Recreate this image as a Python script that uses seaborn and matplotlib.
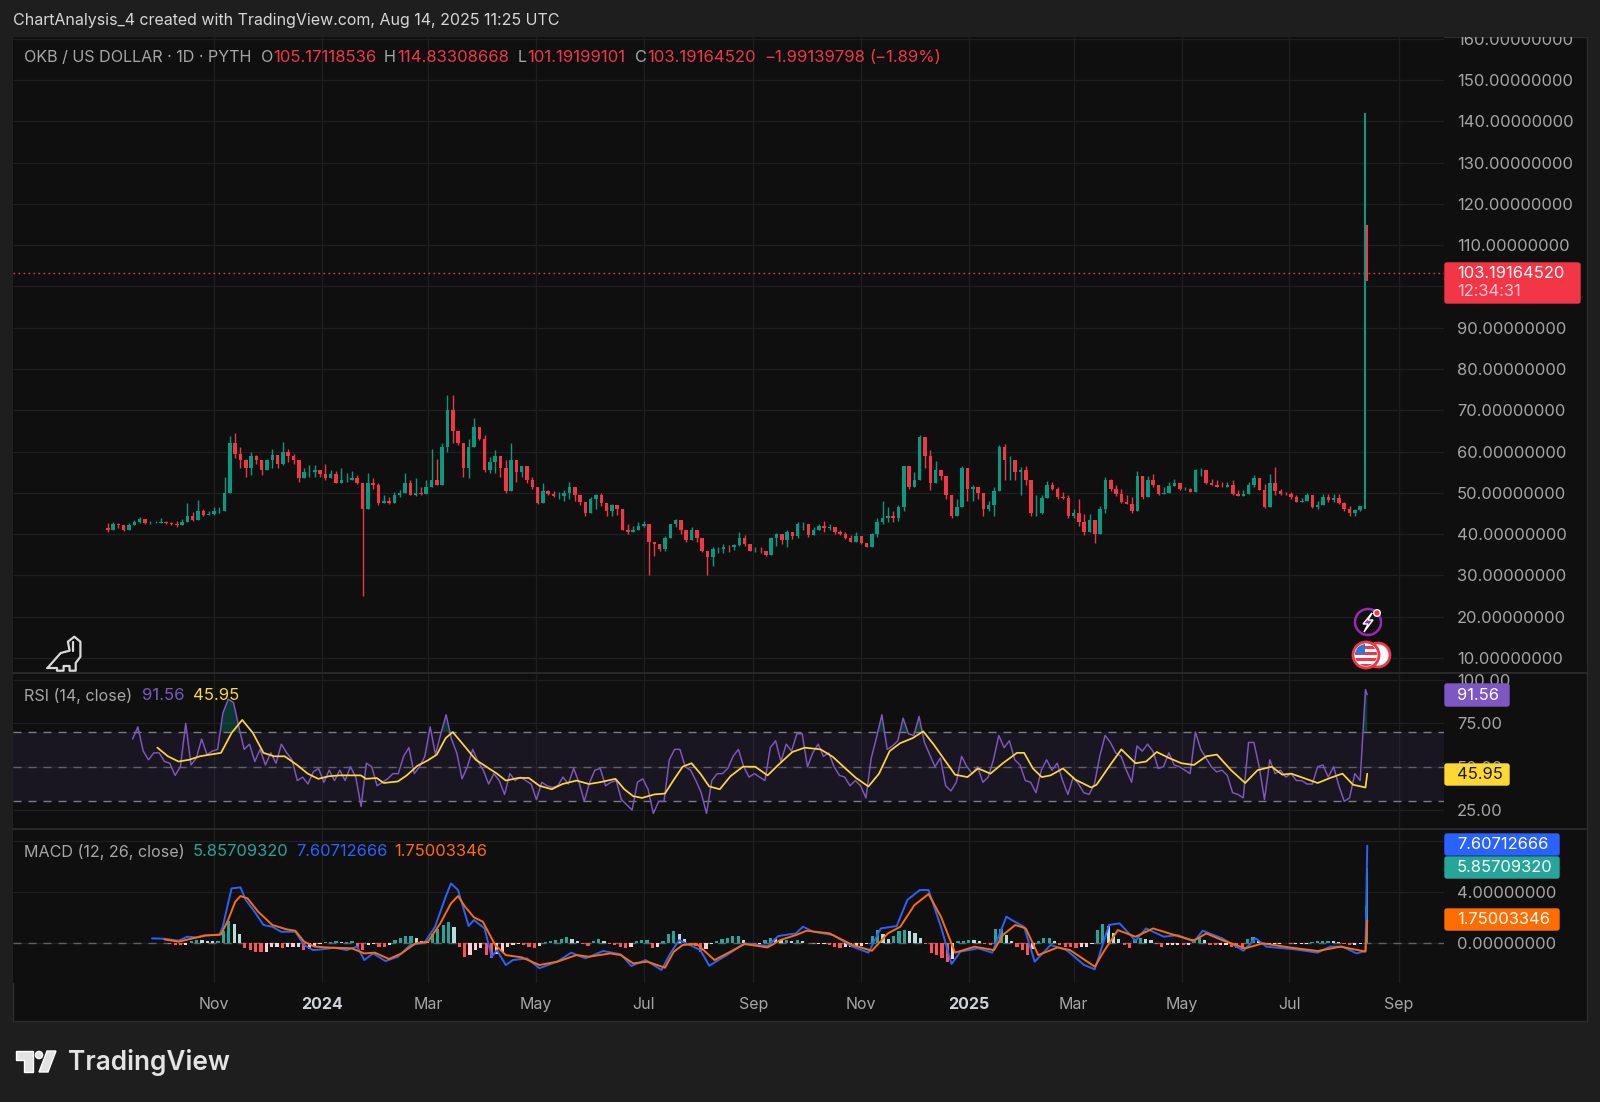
import numpy as np
import pandas as pd
import matplotlib
matplotlib.use('Agg')
import matplotlib.pyplot as plt
from matplotlib.patches import Rectangle, Circle, Polygon, FancyBboxPatch
import seaborn as sns

# candles, one every 3 days from start_date
start_date = pd.Timestamp('2023-09-02')
closes = [41.0,42.5,42.2,41.0,42.2,43.0,43.6,42.6,42.7,42.8,
          42.9,42.6,42.5,42.1,42.9,44.5,43.4,45.6,44.6,44.8,
          45.5,45.6,50.0,62.0,59.5,58.0,56.0,59.0,58.0,55.5,
          58.0,59.2,57.0,60.0,59.0,58.0,53.5,55.0,55.0,55.5,
          54.6,53.5,54.5,52.5,53.0,53.0,53.6,52.4,46.0,52.5,
          52.0,47.5,48.0,47.5,49.5,50.0,52.5,49.5,50.0,49.8,
          51.5,53.0,52.0,61.0,70.0,65.0,62.0,56.0,61.0,66.0,
          63.0,55.5,57.5,59.0,56.0,50.5,58.0,55.0,56.5,53.0,
          51.5,47.5,50.5,49.8,49.2,49.2,50.0,51.5,49.5,47.8,
          45.0,48.5,49.5,47.5,45.5,47.0,46.0,41.0,40.5,41.0,
          42.0,42.5,38.0,37.5,36.5,39.0,42.5,43.5,41.0,38.5,
          41.0,39.0,36.0,34.5,36.5,36.5,37.0,36.8,37.4,39.0,
          37.5,36.0,36.0,35.9,35.0,39.0,40.0,38.5,40.5,39.5,
          42.5,42.5,39.8,41.0,42.0,41.5,41.8,40.5,40.0,39.0,
          38.2,39.5,37.8,37.0,40.0,43.0,44.0,44.5,44.0,46.5,
          56.5,51.5,53.0,63.5,59.0,52.5,55.5,54.0,49.5,44.5,
          46.5,56.0,51.0,51.5,50.0,46.0,47.0,50.5,61.0,58.0,
          58.0,55.0,55.5,53.0,45.0,45.0,48.8,52.0,51.0,49.0,
          48.8,44.5,45.0,43.0,40.5,43.5,40.0,46.0,53.0,51.0,
          49.7,47.8,47.4,45.5,54.0,49.0,53.0,52.0,49.8,50.0,
          51.6,52.5,51.0,51.0,50.3,55.5,55.5,52.5,52.0,51.5,
          51.3,51.8,49.8,49.2,49.8,52.0,53.5,50.8,46.5,52.5,
          50.5,49.8,49.7,48.9,47.8,48.0,49.5,46.6,47.0,49.0,
          48.2,48.7,47.6,46.0,45.2,45.8,46.9]
highs = [42.7,43.0,42.6,42.0,42.6,43.4,44.1,43.1,43.2,43.3,
         43.9,43.3,43.0,43.2,43.6,47.5,45.4,48.2,46.2,45.6,
         46.6,46.6,53.9,63.7,64.6,61.0,58.2,60.0,59.1,57.5,
         58.3,60.7,58.7,62.2,60.7,59.5,56.1,55.9,56.7,56.7,
         55.5,56.9,55.5,55.3,56.1,54.7,55.3,54.3,52.3,54.8,
         53.5,52.4,49.4,49.0,50.2,50.7,54.8,53.0,53.5,51.5,
         53.0,60.7,58.3,62.0,73.7,73.7,64.8,61.5,63.0,68.2,
         65.2,64.0,58.7,60.3,57.5,57.9,62.0,56.5,56.5,56.3,
         53.9,51.0,52.3,50.7,50.4,50.2,50.6,52.6,51.0,49.0,
         47.7,49.1,49.8,50.0,47.3,47.4,46.4,45.7,42.5,42.0,
         42.9,43.1,42.0,37.8,37.3,39.5,42.5,43.6,42.1,40.5,
         41.7,40.5,38.0,36.0,37.0,36.9,37.7,37.3,37.7,40.5,
         39.7,37.2,36.8,36.8,36.0,39.3,40.2,39.3,40.9,40.5,
         42.9,42.9,42.1,41.7,42.5,43.1,42.5,41.5,41.0,40.5,
         39.7,40.5,39.3,37.8,40.2,44.0,48.1,46.5,45.7,47.0,
         56.6,56.6,55.0,63.9,61.9,60.3,57.8,55.6,53.8,48.0,
         48.5,56.6,51.4,51.8,51.4,47.5,48.1,51.4,61.5,61.9,
         59.0,56.6,56.2,56.6,49.8,49.4,49.4,52.8,52.6,51.4,
         50.2,49.4,46.1,48.5,44.9,44.8,42.7,46.9,53.8,53.4,
         51.8,51.0,49.4,49.0,55.2,53.8,54.2,54.6,51.8,51.4,
         52.6,53.4,51.8,51.5,51.2,55.8,56.0,55.0,53.4,53.0,
         52.6,52.6,53.0,50.6,50.6,52.6,54.4,53.4,52.2,54.6,
         56.2,51.0,50.3,50.2,49.4,48.7,50.0,49.0,48.1,49.8,
         49.8,49.8,49.8,47.7,46.7,46.1,46.9]
lows = [40.5,41.4,41.6,40.7,41.8,42.4,42.7,42.4,42.5,42.6,
        42.6,42.5,42.3,41.8,42.2,43.2,43.1,43.4,44.3,44.6,
        44.6,45.0,49.9,55.0,58.5,55.9,53.9,54.3,57.1,54.3,
        55.9,55.9,55.9,56.7,57.5,57.1,52.7,53.9,53.9,53.9,
        53.9,53.2,53.5,52.3,52.9,52.7,53.0,52.2,25.0,46.2,
        51.0,47.0,47.8,47.2,48.6,49.0,50.0,49.4,49.2,49.4,
        50.5,51.3,51.9,56.5,60.0,62.0,61.5,53.9,53.5,62.4,
        62.8,55.0,54.7,54.7,53.9,50.0,53.0,52.7,53.9,52.3,
        51.0,47.4,49.4,49.4,48.9,48.5,48.1,48.5,48.1,47.0,
        44.5,46.1,46.1,46.9,44.5,44.5,44.7,40.9,40.0,40.7,
        41.0,41.7,30.0,34.8,35.9,36.0,39.3,41.7,40.0,38.2,
        39.7,38.0,35.6,30.2,32.4,35.4,35.4,35.6,36.2,37.2,
        37.2,35.9,35.6,35.4,34.7,36.0,37.2,37.6,37.0,38.9,
        39.0,40.9,39.4,39.9,40.9,40.5,41.0,40.0,39.7,38.9,
        38.1,38.5,37.5,36.8,37.2,39.4,42.5,42.9,42.9,43.3,
        45.7,51.0,52.0,53.0,56.0,50.6,53.0,53.0,48.5,44.0,
        44.5,48.1,48.1,48.0,48.5,44.5,45.7,44.5,51.8,53.0,
        53.0,53.0,49.4,52.0,44.5,44.5,44.9,49.8,50.6,48.5,
        48.5,44.0,44.0,42.0,39.9,41.3,37.8,40.5,45.0,50.5,
        49.2,47.5,47.3,45.0,49.0,48.5,52.2,51.4,49.6,49.8,
        50.6,51.8,50.7,50.7,50.3,51.0,54.2,52.2,51.8,51.4,
        51.3,51.3,49.6,49.2,49.4,50.2,51.4,50.7,46.3,47.7,
        49.4,49.4,49.6,48.5,47.7,47.7,48.1,46.4,46.1,47.7,
        47.7,47.7,47.3,45.7,44.5,44.3,45.7]
first_open = 41.5

# the last two daily candles, Aug 13 and Aug 14 2025
spike_days = [711, 712]
spike_open = [46.5, 105.17118536]
spike_high = [142.0, 114.83308668]
spike_low = [46.0, 101.19199101]
spike_close = [105.17118536, 103.1916452]
last_close = 103.1916452

# RSI, one every 3 days from day 14
rsi_vals = [66,73,59,54,58,58,53,52,45,50,75,51,55,66,57,59,60,81,89,87,
            73,60,63,53,60,51,58,52,63,58,54,42,44,40,47,49,41,48,42,48,
            42,50,44,27,52,50,39,41,43,46,46,56,61,46,50,56,73,57,69,80,
            66,58,43,50,60,53,48,40,46,42,34,46,42,44,42,40,31,41,39,38,
            39,44,40,49,41,30,41,48,49,39,41,42,31,28,25,41,43,37,23,30,
            30,54,60,60,50,48,42,35,23,42,46,46,49,56,60,50,44,46,44,42,
            61,65,53,63,59,69,69,50,58,63,56,58,50,45,44,39,42,39,32,55,
            67,80,60,62,65,78,69,68,79,64,57,50,55,39,36,41,56,50,46,50,
            41,44,54,68,61,65,54,51,42,41,35,48,54,48,52,42,34,44,40,35,
            34,40,56,68,64,58,56,48,41,62,59,63,59,49,50,58,51,50,48,46,
            70,60,55,50,47,48,45,35,34,32,64,64,50,31,54,46,48,44,46,42,
            42,40,40,50,51,44,50,39,30,32,46,42]
rsi_end = [94.5, 91.56]

rsi_ma_days = [28,34,40,46,52,58,64,70,76,82,88,94,100,107,113,119,125,131,137,143,
               146,152,156,164,169,175,181,186,191,195,201,208,214,220,225,232,238,244,251,257,
               265,272,278,287,292,297,302,309,315,320,325,330,335,340,346,352,359,366,373,379,
               387,394,403,410,417,423,430,436,442,448,455,461,467,473,479,486,492,499,506,514,
               518,523,528,533,540,547,556,559,566,573,581,587,593,600,607,614,621,627,635,643,
               650,658,664,669,676,684,691,698,704,711,712]
rsi_ma_vals = [61,56,53,54,56,57,58,69.5,77,69.5,58,56,56,51,46,43,44.5,45,45,45,
               43,43.5,40.6,41.5,45,50.5,53.7,57,66.5,70,62.7,54,50,46,42,43.5,43.5,39,37,40,
               42,40,41,43,37,33,32,34,34.5,42.5,50,52,46,38.6,37,44.5,50,50,45,51,
               58.5,61,60,55.6,49,43.5,38.6,46,59,63.6,66.5,70.4,62.7,54,45.4,44,49,46,52,58,
               58,49,44,45,49,42.5,38,39.6,50,60,52,53,58.5,55,52,51,56,57,48,40.6,
               48,50,45.4,46,43.5,40.6,43.5,46,39.6,38,45.95]

# MACD line and signal line, read at the turning points
macd_days = [25,32,40,45,50,55,63,65,68,70,75,78,83,88,93,98,106,111,116,121,
             128,135,141,145,150,157,164,171,179,185,191,194,198,204,207,213,217,220,225,229,
             237,244,254,262,270,280,290,296,304,313,318,323,329,335,340,350,360,373,379,389,
             393,399,410,421,430,437,446,452,459,464,471,477,482,492,500,508,511,518,524,533,
             542,552,558,566,572,581,587,597,605,614,619,630,642,649,655,671,684,691,698,706,
             711,712]
macd_vals = [.34,.31,.16,.47,.42,.6,.6,1.25,3.1,4.26,4.34,3.35,2.43,1.39,1.25,.86,.86,-.18,-.58,-.52,
             -.39,-.58,-.31,-1.36,-.84,-1.44,-1.1,-.18,0,1.25,3.6,4.65,4.13,1.31,1.78,1.12,-1.1,-.58,-1.75,-1.36,
             -1.23,-2.0,-1.49,-.78,-1.23,-.65,-.91,-1.83,-1.36,-2.14,-.84,.2,-.18,-.58,-1.8,-.97,-.05,-.26,.52,.73,
             1.25,.86,.6,-.31,-.78,1.12,1.31,3.35,4.13,4.13,1.25,-1.67,-.7,-.44,-.78,2.04,1.78,1.25,-1.49,-.18,
             -.58,-1.75,-2.09,1.39,1.52,.16,1.12,.47,.6,.08,.94,.34,-.63,.34,-.31,-.52,-.78,-.31,-.31,-.84,
             -.65,7.60712666]
signal_days = [32,40,48,55,64,68,72,75,79,85,93,101,106,111,117,126,138,145,151,159,
               166,174,181,188,194,198,202,207,212,219,225,234,244,254,265,272,284,290,297,305,
               315,320,325,333,343,352,360,373,380,389,395,408,421,432,441,448,456,464,471,479,
               490,501,506,513,519,526,537,544,558,563,571,581,591,603,614,621,630,643,653,668,
               684,697,711,712]
signal_vals = [.26,.08,.34,.55,.65,1.78,3.2,3.66,3.48,2.43,1.39,1.05,.94,.08,-.31,-.39,-.44,-.84,-.78,-1.28,
               -.84,-.05,.08,1.52,3.08,3.66,2.82,1.99,1.65,-.18,-.97,-1.15,-1.75,-1.49,-.97,-1.1,-.84,-.97,-1.62,-1.49,
               -1.96,-.7,-.18,-.1,-1.36,-.7,-.1,-.37,.2,.6,.94,.73,-.18,-.63,.73,1.25,2.95,3.82,2.04,-.78,
               -.31,-.58,.6,1.39,1.12,-.97,-.37,-.58,-1.88,-.7,.99,.47,1.12,.6,.16,.73,.2,-.44,-.05,-.37,
               -.65,-.31,-.7,1.75003346]

# MACD histogram, one bar every 3 days from day 32
hist_vals = [-.05,-.1,-.15,-.2,-.2,.15,.25,.2,.15,.1,.1,.9,1.7,1.5,.7,-.4,-.6,-.7,-.75,-.7,
             -.35,-.3,-.4,-.3,-.3,-.3,-.6,-.5,-.3,-.1,.05,.08,.1,.06,.06,.1,-.3,-.6,-.2,-.1,
             -.3,-.35,-.15,.25,.35,.5,.55,.35,.15,.1,.7,1.1,1.4,1.6,1.2,-.3,-1.1,-1.0,-.6,-.4,
             -1.0,-1.2,-.9,-.7,-.3,-.15,-.1,-.15,-.3,-.45,-.25,.05,.15,.2,.3,.45,.3,.1,-.1,-.25,
             .15,.3,.15,-.1,-.2,-.3,-.4,-.35,.1,.2,.2,-.4,-.35,.1,.7,.9,.7,.3,-.1,-.25,
             -.7,-.5,-.1,.1,.3,.4,.5,.5,.2,-.05,-.15,-.1,.2,.4,.3,.2,.2,.15,.2,.15,
             -.05,-.1,-.1,-.1,-.2,-.3,-.4,-.35,-.3,-.25,-.25,-.1,.5,1.0,.7,.3,.5,.9,1.0,.9,
             .8,.4,-.1,-.8,-1.0,-1.2,-1.5,-1.3,.1,.15,.25,.2,.1,-.1,-.2,1.1,1.1,.6,.1,-.3,
             -.6,-1.0,-.5,.1,.4,.4,.1,-.2,-.3,-.35,-.4,-.35,-.3,-.1,1.0,1.5,1.3,.8,.3,-.2,
             -.4,.25,.35,.3,.2,-.1,-.3,-.15,-.15,-.15,-.2,-.2,.3,.4,.2,-.15,-.2,-.2,-.2,-.3,
             -.45,-.5,.3,.45,.1,-.1,-.1,-.1,-.1,-.05,-.1,-.1,-.1,-.1,.05,.1,.15,.15,.1,.05,
             -.1,-.15,-.15,-.1]
hist_end = [2.9, 5.8570932]

price_ticks = list(range(10, 170, 10))
rsi_ticks = [25, 50, 75, 100]
macd_ticks = [0, 4, 8]
tick_dates = ['2023-11-01', '2024-01-01', '2024-03-01', '2024-05-01', '2024-07-01',
              '2024-09-01', '2024-11-01', '2025-01-01', '2025-03-01', '2025-05-01',
              '2025-07-01', '2025-09-01']
tick_names = ['Nov', '2024', 'Mar', 'May', 'Jul', 'Sep', 'Nov', '2025', 'Mar', 'May', 'Jul', 'Sep']

GREEN = '#089981'
RED = '#f23645'
PURPLE = '#7e57c2'
YELLOW = '#fdd835'
BLUE = '#2962ff'
ORANGE = '#ff6d00'
TEAL = '#26a69a'
OUTER = '#1e1e1e'
PANEL = '#0f0f0f'
GRID = '#1e1e1e'
TXT = '#a6a6a6'

sns.set_theme(style='dark')
plt.rcParams['font.family'] = ['Inter', 'DejaVu Sans']
plt.rcParams['axes.unicode_minus'] = False
plt.rcParams['lines.solid_joinstyle'] = 'round'

W, H = 1600, 1102
fig = plt.figure(figsize=(W / 100, H / 100), dpi=100, facecolor=OUTER)


def pane(top, bottom, left=13, right=1444, z=1):
    return fig.add_axes([left / W, 1 - bottom / H, (right - left) / W, (bottom - top) / H],
                        facecolor=PANEL, zorder=z)


# background panel
bg = fig.add_axes([0, 0, 1, 1], zorder=0)
bg.set_xlim(0, W)
bg.set_ylim(H, 0)
bg.axis('off')
bg.add_patch(Rectangle((13, 37), 1574, 984, fc=PANEL, ec='#2c2c2c', lw=1))

ax1 = pane(37, 673)
ax2 = pane(674, 829)
ax3 = pane(830, 983)

# x is days since start_date, 1.769 pixels a day
xlim = (-53.6, 755.4)
tick_days = [(pd.Timestamp(d) - start_date).days for d in tick_dates]

# candles
closes_arr = np.array(closes)
opens_arr = np.r_[first_open, closes_arr[:-1]]
candle_days = np.arange(len(closes_arr)) * 3
up = closes_arr >= opens_arr
candle_cols = np.where(up, GREEN, RED)
wick_hi = np.maximum(np.array(highs), np.maximum(opens_arr, closes_arr))
wick_lo = np.minimum(np.array(lows), np.minimum(opens_arr, closes_arr))
ax1.vlines(candle_days, wick_lo, wick_hi, colors=candle_cols, lw=1.0, zorder=3)
ax1.bar(candle_days, closes_arr - opens_arr, bottom=opens_arr, width=2.0, color=candle_cols, lw=0, zorder=3)
spike_cols = [GREEN if c >= o else RED for o, c in zip(spike_open, spike_close)]
ax1.vlines(spike_days, spike_low, spike_high, colors=spike_cols, lw=1.5, zorder=4)
ax1.bar(spike_days, np.array(spike_close) - np.array(spike_open), bottom=spike_open,
        width=0.8, color=spike_cols, lw=0, zorder=4)
ax1.axhline(last_close, color=RED, lw=1, ls=(0, (1.2, 2.4)), zorder=2)

# RSI
rsi_days = np.r_[np.linspace(14, 708, len(rsi_vals)), spike_days]
rsi_all = np.r_[rsi_vals, rsi_end]
rsi_df = pd.DataFrame({'day': rsi_days, 'rsi': rsi_all})
rsi_ma_df = pd.DataFrame({'day': rsi_ma_days, 'ma': rsi_ma_vals})
ax2.axhspan(30, 70, color=PURPLE, alpha=0.1, lw=0, zorder=1)
for lvl in [70, 50, 30]:
    ax2.axhline(lvl, color='#787b86', lw=1, ls=(0, (5.8, 5)), zorder=2, alpha=1 if lvl != 50 else 0.7)
ax2.fill_between(rsi_days, 70, rsi_all, where=rsi_all > 70, interpolate=True, color=GREEN, alpha=0.3, lw=0, zorder=2)
sns.lineplot(data=rsi_df, x='day', y='rsi', ax=ax2, color=PURPLE, lw=1.05, estimator=None, zorder=3)
sns.lineplot(data=rsi_ma_df, x='day', y='ma', ax=ax2, color=YELLOW, lw=1.25, estimator=None, zorder=4)

# MACD
hist_days = np.linspace(32, 708, len(hist_vals))
hist_arr = np.array(hist_vals)
prev = np.r_[0, hist_arr[:-1]]
hist_cols = np.where(hist_arr >= 0, np.where(hist_arr >= prev, TEAL, '#b2dfdb'),
                     np.where(hist_arr < prev, '#ff5252', '#ffcdd2'))
hist_df = pd.DataFrame({'day': hist_days, 'hist': hist_arr, 'col': hist_cols})
ax3.axhline(0, color='#5d606b', lw=1, ls=(0, (5.8, 5)), zorder=1)
sns.barplot(data=hist_df, x='day', y='hist', hue='col', palette={c: c for c in set(hist_cols)},
            native_scale=True, dodge=False, width=0.6, saturation=1, legend=False,
            errorbar=None, linewidth=0, ax=ax3, zorder=2)
end_df = pd.DataFrame({'day': spike_days, 'hist': hist_end})
sns.barplot(data=end_df, x='day', y='hist', color=TEAL, native_scale=True, width=0.8, saturation=1,
            errorbar=None, linewidth=0, ax=ax3, zorder=2)
macd_df = pd.DataFrame({'day': macd_days, 'v': macd_vals})
signal_df = pd.DataFrame({'day': signal_days, 'v': signal_vals})
sns.lineplot(data=macd_df, x='day', y='v', ax=ax3, color=BLUE, lw=1.4, estimator=None, zorder=3)
sns.lineplot(data=signal_df, x='day', y='v', ax=ax3, color=ORANGE, lw=1.4, estimator=None, zorder=4)

# axes
ax1.set_ylim(6.37, 160.4)
ax2.set_ylim(14.05, 103.5)
ax3.set_ylim(-3.16, 8.84)
for ax in (ax1, ax2, ax3):
    ax.set_xlim(*xlim)
    ax.set_xticks(tick_days)
    ax.set_xlabel('')
    ax.set_ylabel('')
    ax.yaxis.tick_right()
    ax.grid(True, color=GRID, lw=1)
    ax.set_axisbelow(True)
    ax.tick_params(axis='y', length=0, pad=9.2, labelsize=11.9, labelcolor=TXT)
    for s in ax.spines.values():
        s.set_visible(False)
ax1.set_yticks(price_ticks, [f'{v:.8f}' for v in price_ticks])
ax2.set_yticks(rsi_ticks, [f'{v:.2f}' for v in rsi_ticks])
ax3.set_yticks(macd_ticks, [f'{v:.8f}' for v in macd_ticks])
ax1.tick_params(axis='x', length=0, labelbottom=False)
ax2.tick_params(axis='x', length=0, labelbottom=False)
ax3.set_xticks(tick_days, tick_names)
ax3.tick_params(axis='x', length=0, pad=10, labelsize=11.5, labelcolor=TXT)
for lab in ax3.get_xticklabels():
    if lab.get_text().startswith('20'):
        lab.set_fontweight('bold')
        lab.set_color('#d1d4dc')

# everything outside the data: header, legends, badges, icons
ov = fig.add_axes([0, 0, 1, 1], zorder=20)
ov.set_xlim(0, W)
ov.set_ylim(H, 0)
ov.axis('off')
ov.patch.set_alpha(0)
ov.add_patch(Rectangle((0, 0), W, 36.5, fc=OUTER, ec='none'))
ov.add_patch(Rectangle((1445, 664), 142, 9, fc=PANEL, ec='none'))
for y in (673, 829):
    ov.plot([13, 1587], [y, y], color='#2e2e2e', lw=1.2)


def label(x, y, s, color=TXT, size=11.6, **kw):
    ov.text(x, y, s, color=color, fontsize=size, va='center', ha=kw.pop('ha', 'left'), **kw)


def badge(x0, x1, y0, y1, color, s, tcolor='white'):
    ov.add_patch(FancyBboxPatch((x0, y0 + 1), x1 - x0 - 1, y1 - y0 - 2, boxstyle='round,pad=0,rounding_size=2',
                                fc=color, ec=color, lw=1))
    label(1457, (y0 + y1) / 2, s, tcolor, 11.9)


label(13, 21, 'ChartAnalysis_4 created with TradingView.com, Aug 14, 2025 11:25 UTC', '#d6d6d6', 11.5)
label(24.5, 58, 'OKB / US DOLLAR · 1D · PYTH')
for x, s, c in [(261, 'O', TXT), (273, '105.17118536', RED), (384, 'H', TXT), (397, '114.83308668', RED),
                (518, 'L', TXT), (527, '101.19199101', RED), (635, 'C', TXT), (647, '103.19164520', RED),
                (764, '−1.99139798', RED), (869, '(−1.89%)', RED)]:
    label(x, 58, s, c, 12 if c == RED else 11.6)
label(24.5, 696, 'RSI (14, close)')
label(142, 696, '91.56', PURPLE, 12)
label(193, 696, '45.95', YELLOW, 12)
label(24.5, 852, 'MACD (12, 26, close)')
label(193, 852, '5.85709320', TEAL, 11.9)
label(296, 852, '7.60712666', BLUE, 11.9)
label(394, 852, '1.75003346', ORANGE, 11.9)

badge(1445, 1510, 683, 707, PURPLE, '91.56')
badge(1445, 1510, 763, 786, YELLOW, '45.95', '#1a1a1a')
badge(1445, 1560, 856, 879, TEAL, '5.85709320')
badge(1445, 1560, 833, 856, BLUE, '7.60712666')
badge(1445, 1560, 908, 931, ORANGE, '1.75003346')
ov.add_patch(FancyBboxPatch((1445, 263), 135, 40, boxstyle='round,pad=0,rounding_size=2', fc=RED, ec=RED, lw=1))
label(1457, 273, '103.19164520', 'white', 11.9)
label(1457, 292, '12:34:31', '#ffc9cf', 11.9)

# dino
dino = [(47.5, 668), (60.7, 653), (69.6, 650.7), (67.9, 641.7), (74.3, 636.7), (80.4, 641.7), (80.4, 656.7),
        (75.7, 663), (75.7, 670.7), (69.6, 670.7), (69.6, 666), (63.6, 666), (63.6, 670.7), (57, 670.7), (57, 668),
        (47.5, 668)]
ov.plot(*zip(*dino), color='#d9d9d9', lw=1.6)
ov.plot([73.2, 73.2], [641.7, 650.7], color='#d9d9d9', lw=1.6)

# event icons
ov.add_patch(Circle((1368, 622), 13, fc='none', ec='#9c27b0', lw=1.8))
ov.add_patch(Polygon([(1372, 613), (1363, 624), (1368, 624), (1364, 632), (1373, 620), (1368, 620)], fc='#9c27b0'))
ov.add_patch(Circle((1377, 613), 3.3, fc=RED))
ov.add_patch(Circle((1378, 655), 12, fc='white', ec=RED, lw=2))
ov.add_patch(Circle((1366, 655), 13, fc='white', ec=RED, lw=2))
clip = Circle((1366, 655), 11, transform=ov.transData)
for y in (646, 652, 658, 664):
    st = ov.add_patch(Rectangle((1354, y), 24, 3, fc=RED, ec='none'))
    st.set_clip_path(clip)
cant = ov.add_patch(Rectangle((1354, 644), 11, 10, fc='#2979d9', ec='none'))
cant.set_clip_path(clip)

# TradingView logo
logo = '#e3e3e3'
ov.add_patch(Polygon([(16, 1051), (33, 1051), (33, 1072), (24, 1072), (24, 1060), (16, 1060)], fc=logo))
ov.add_patch(Circle((39, 1055), 3.6, fc=logo))
ov.add_patch(Polygon([(47, 1051), (56, 1051), (48, 1072), (39, 1072)], fc=logo))
label(68, 1062, 'TradingView', logo, 18.9, fontweight='semibold')

fig.savefig('out.png', dpi=100, facecolor=OUTER)
